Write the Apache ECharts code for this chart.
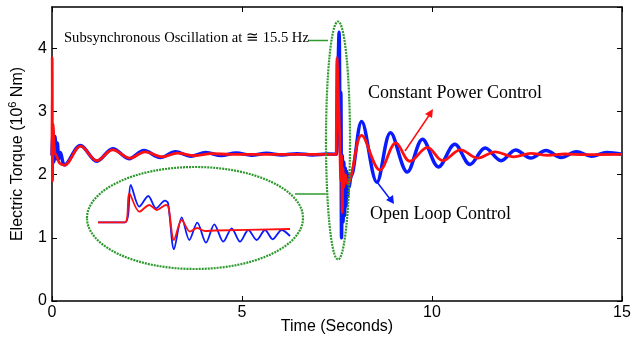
<!DOCTYPE html>
<html>
<head>
<meta charset="utf-8">
<script src="https://cdn.jsdelivr.net/npm/echarts@6/dist/echarts.min.js"></script>
<style>html,body{margin:0;padding:0;background:#fff}#c{width:633px;height:341px}</style>
</head>
<body>
<div id="c"></div>
<script>
// Main chart data (time in seconds, electric torque in 10^6 Nm)
var blueT = [0,0.02,0.05,0.08,0.11,0.14,0.18,0.22,0.33,0.75,1.18,1.6,2.03,2.42,2.85,3.25,3.65,4.05,4.45,4.85,5.25,5.65,6.05,6.45,6.85,7.25,7.48,
  7.52,7.555,7.58,7.6,7.62,7.64,7.66,7.68,7.70,7.72,7.74,7.76,7.78,7.80,7.82,7.86,7.92,
  8.15,8.55,8.91,9.35,9.75,10.17,10.6,11.0,11.4,11.82,12.2,12.6,13.0,13.4,13.8,14.2,14.6,15.0];
var blueV = [2.30,2.70,2.20,2.60,2.25,2.50,2.25,2.35,2.15,2.46,2.21,2.41,2.25,2.38,2.27,2.36,2.29,2.35,2.30,2.34,2.305,2.335,2.31,2.33,2.31,2.325,2.32,
  3.40,4.25,2.90,3.30,1.00,2.30,1.25,2.20,1.35,2.10,1.50,2.05,1.65,2.00,1.80,1.95,2.05,
  2.84,1.88,2.66,2.04,2.56,2.12,2.48,2.16,2.42,2.22,2.39,2.26,2.38,2.27,2.36,2.29,2.35,2.32];
var redT = [0,0.005,0.015,0.03,0.07,0.12,0.2,0.33,0.75,1.18,1.6,2.05,2.45,2.9,3.3,3.75,4.2,4.7,7.48,
  7.49,7.50,7.54,7.57,7.60,7.62,7.64,7.66,7.68,7.72,7.78,7.86,
  8.15,8.63,9.05,9.42,9.88,10.28,10.75,11.2,11.66,12.15,12.6,13.05,13.5,14.0,15.0];
var redV = [2.30,3.85,1.90,2.80,2.35,2.30,2.18,2.15,2.45,2.22,2.39,2.26,2.36,2.28,2.34,2.30,2.33,2.32,2.32,
  2.32,3.85,3.20,2.60,1.90,2.30,1.40,2.10,1.80,2.00,1.85,1.95,
  2.62,2.07,2.50,2.21,2.43,2.22,2.39,2.26,2.36,2.28,2.335,2.305,2.325,2.315,2.32];
// Inset (magnified view of the disturbance), arbitrary units
var insetBlueX = [0,27,32.7,41.3,50.3,58,67,70,76,83.7,91.3,99.3,108,116.3,125.3,133.7,142,150.3,158.7,167,174.7,183.7,192];
var insetBlueY = [32.7,32.7,70,48.3,59,46.7,54.3,52,5.7,37.7,15,32.3,12.3,30.7,13.3,26.7,13.3,25,15,25,15.7,25,19];
var insetRedX = [0,27,31.3,41.3,51.3,58.7,68,70.5,76,83.7,92,99,107,117,192];
var insetRedY = [32.7,32.7,61.7,43.3,50,45,50,48,15,35,23.3,27,24,24.5,26];
var xTicks = [0,5,10,15];
var yTicks = [0,1,2,3,4];

function pairs(a,b){return a.map(function(v,i){return [v,b[i]];});}
var chart = echarts.init(document.getElementById('c'));
var green = '#2e9a2e';
var axisTxt = {color:'#000',fontFamily:'Liberation Sans, Arial',fontSize:16};
var boxLine = {onZero:false,lineStyle:{color:'#000',width:1.5}};
chart.setOption({
  animation:false,
  backgroundColor:'#fff',
  grid:[{left:52,right:11,top:7,bottom:40,containLabel:false,outerBoundsMode:'none'},
        {left:98,width:192,top:180,height:75,containLabel:false,outerBoundsMode:'none'}],
  xAxis:[
    {type:'value',gridIndex:0,min:xTicks[0],max:xTicks[xTicks.length-1],interval:5,
     name:'Time (Seconds)',nameLocation:'middle',nameGap:18,nameMoveOverlap:false,nameTextStyle:axisTxt,
     axisLine:boxLine,axisTick:{inside:true,length:5,lineStyle:{color:'#000'}},
     axisLabel:Object.assign({margin:4},axisTxt),splitLine:{show:false}},
    {type:'value',gridIndex:0,position:'top',min:0,max:15,interval:5,
     axisLine:boxLine,axisTick:{inside:true,length:5,lineStyle:{color:'#000'}},
     axisLabel:{show:false},splitLine:{show:false}},
    {type:'value',gridIndex:1,min:0,max:192,show:false}
  ],
  yAxis:[
    {type:'value',gridIndex:0,min:yTicks[0],max:4.65,interval:1,
     name:'Electric Torque (10{s|6} Nm)',nameLocation:'middle',nameGap:24,nameRotate:90,
     nameTextStyle:Object.assign({rich:{s:{fontSize:11,verticalAlign:'top',padding:[0,0,10,0],fontFamily:'Liberation Sans, Arial'}}},axisTxt),
     axisLine:boxLine,axisTick:{inside:true,length:5,lineStyle:{color:'#000'}},
     axisLabel:Object.assign({margin:5,showMaxLabel:false},axisTxt),splitLine:{show:false}},
    {type:'value',gridIndex:0,position:'right',min:0,max:4.65,interval:1,
     axisLine:Object.assign({show:true},boxLine),axisTick:{show:true,inside:true,length:5,lineStyle:{color:'#000'}},
     axisLabel:{show:false},splitLine:{show:false}},
    {type:'value',gridIndex:1,min:0,max:75,show:false}
  ],
  series:[
    {name:'Open Loop Control',type:'line',xAxisIndex:0,yAxisIndex:0,data:pairs(blueT,blueV),showSymbol:false,smooth:0.35,
     lineStyle:{color:'#0a1aff',width:3.5},z:2},
    {name:'Constant Power Control',type:'line',xAxisIndex:0,yAxisIndex:0,data:pairs(redT,redV),showSymbol:false,smooth:0.35,
     lineStyle:{color:'#ff1010',width:2.8},z:3},
    {type:'line',xAxisIndex:2,yAxisIndex:2,data:pairs(insetBlueX,insetBlueY),showSymbol:false,smooth:0.3,
     lineStyle:{color:'#0a1aff',width:1.8},z:2},
    {type:'line',xAxisIndex:2,yAxisIndex:2,data:pairs(insetRedX,insetRedY),showSymbol:false,smooth:0.3,
     lineStyle:{color:'#ff1010',width:1.8},z:3}
  ],
  graphic:[
    {type:'ellipse',shape:{cx:338,cy:140.5,rx:12,ry:119},style:{fill:null,stroke:green,lineWidth:2.2,lineDash:[2,1]},z:10},
    {type:'ellipse',shape:{cx:195,cy:218,rx:108,ry:51},style:{fill:null,stroke:green,lineWidth:2.2,lineDash:[2,1]},z:10},
    {type:'line',shape:{x1:308,y1:40.5,x2:328,y2:40.5},style:{stroke:green,lineWidth:1.5},z:10},
    {type:'line',shape:{x1:295,y1:194,x2:326,y2:194},style:{stroke:green,lineWidth:1.5},z:10},
    {type:'text',left:64,top:31,style:{text:'Subsynchronous Oscillation at \u2245 15.5 Hz',font:'14.6px "Liberation Serif", "Times New Roman", serif',fill:'#000'},z:10},
    {type:'text',left:368,top:84,style:{text:'Constant Power Control',font:'18px "Liberation Serif", "Times New Roman", serif',fill:'#000'},z:10},
    {type:'text',left:370,top:205,style:{text:'Open Loop Control',font:'18px "Liberation Serif", "Times New Roman", serif',fill:'#000'},z:10},
    {type:'line',shape:{x1:405,y1:151,x2:430,y2:114},style:{stroke:'#ff1010',lineWidth:1.5},z:10},
    {type:'polygon',shape:{points:[[433,109],[425,114],[432,118]]},style:{fill:'#ff1010'},z:10},
    {type:'line',shape:{x1:377,y1:182,x2:390,y2:199},style:{stroke:'#0a1aff',lineWidth:1.5},z:10},
    {type:'polygon',shape:{points:[[394,204],[386,200],[393,195]]},style:{fill:'#0a1aff'},z:10}
  ]
});
</script>
</body>
</html>
